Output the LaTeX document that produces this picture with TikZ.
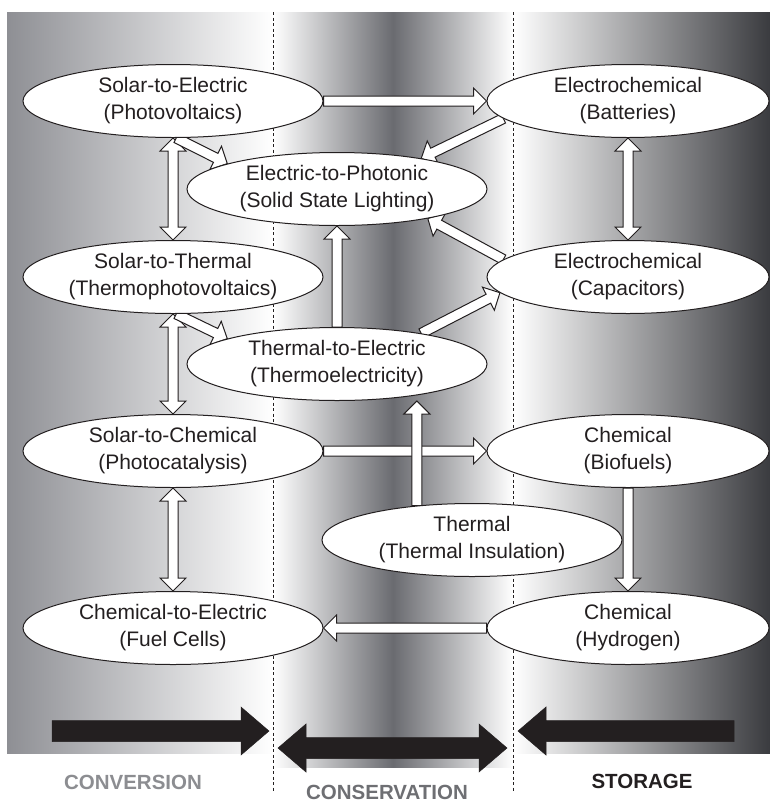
\documentclass[tikz,border=0pt]{standalone}
\usepackage{fontspec}
\setmainfont{Liberation Sans}
\usetikzlibrary{calc,shapes.geometric}
\definecolor{ink}{HTML}{231F20}
\definecolor{convc}{HTML}{8E8F94}
\definecolor{consc}{HTML}{6A6B70}
\definecolor{storc}{HTML}{3A3B3F}
\definecolor{convtxt}{HTML}{8C8D91}
\definecolor{constxt}{HTML}{6E6F73}
\pgfdeclarelayer{bg}
\pgfdeclarelayer{mid}
\pgfsetlayers{bg,mid,main}
\tikzset{
  eblk/.style={draw=ink, ellipse, fill=white, line width=1pt, minimum width=300pt, minimum height=73pt,
    inner sep=0pt, align=center, text=ink, font=\fontsize{21}{27}\selectfont},
  fatarr/.style={draw=ink, fill=white, line width=1pt, line join=miter},
  bigarr/.style={draw=ink, fill=ink, line width=0.5pt},
  sepline/.style={draw=ink, line width=1pt, dash pattern=on 3pt off 2.5pt},
  zonelbl/.style={font=\bfseries\fontsize{20.5}{24}\selectfont, inner sep=1pt},
}
% sizes of the hollow arrows
\newcommand{\arrshaft}{5pt}
\newcommand{\arrhead}{13pt}
\newcommand{\arrlen}{13pt}
% single arrow from #2 to #3
\newcommand{\fatarrow}[3][fatarr]{%
  \coordinate (hb) at ($(#3)!\arrlen!(#2)$);
  \filldraw[#1] ($(#2)!\arrshaft!90:(#3)$) -- ($(hb)!\arrshaft!90:(#3)$) -- ($(hb)!\arrhead!90:(#3)$)
    -- (#3) -- ($(hb)!\arrhead!-90:(#3)$) -- ($(hb)!\arrshaft!-90:(#3)$) -- ($(#2)!\arrshaft!-90:(#3)$) -- cycle;}
% double arrow between #2 and #3
\newcommand{\fatdarrow}[3][fatarr]{%
  \coordinate (ha) at ($(#2)!\arrlen!(#3)$);
  \coordinate (hb) at ($(#3)!\arrlen!(#2)$);
  \filldraw[#1] (#2) -- ($(ha)!\arrhead!90:(#3)$) -- ($(ha)!\arrshaft!90:(#3)$) -- ($(hb)!\arrshaft!90:(#3)$)
    -- ($(hb)!\arrhead!90:(#3)$) -- (#3) -- ($(hb)!\arrhead!-90:(#3)$) -- ($(hb)!\arrshaft!-90:(#3)$)
    -- ($(ha)!\arrshaft!-90:(#3)$) -- ($(ha)!\arrhead!-90:(#3)$) -- cycle;}

\begin{document}
\begin{tikzpicture}[x=1pt, y=-1pt]
  \useasboundingbox (0,0) rectangle (770,804);
  \begin{pgfonlayer}{bg}
    \shade[left color=convc, right color=white] (7,12) rectangle (273,753);
    \shade[left color=white, right color=white, middle color=consc] (273,12) rectangle (513,767);
    \shade[left color=white, right color=storc] (513,12) rectangle (770,753);
    \draw[sepline] (273,12) -- (273,792);
    \draw[sepline] (513,12) -- (513,792);
  \end{pgfonlayer}

  % conversion
  \node[eblk] (e1) at (173,101) {Solar-to-Electric\\(Photovoltaics)};
  \node[eblk] (st) at (173,277) {Solar-to-Thermal\\(Thermophotovoltaics)};
  \node[eblk] (sc) at (173,451) {Solar-to-Chemical\\(Photocatalysis)};
  \node[eblk] (ce) at (173,628) {Chemical-to-Electric\\(Fuel Cells)};
  % conservation
  \node[eblk] (ep) at (337,189) {Electric-to-Photonic\\(Solid State Lighting)};
  \node[eblk] (te) at (337,364) {Thermal-to-Electric\\(Thermoelectricity)};
  \node[eblk] (th) at (472,540) {Thermal\\(Thermal Insulation)};
  % storage
  \node[eblk, minimum width=282pt] (b) at (628,101) {Electrochemical\\(Batteries)};
  \node[eblk, minimum width=282pt] (c) at (628,277) {Electrochemical\\(Capacitors)};
  \node[eblk, minimum width=282pt] (bf) at (628,451) {Chemical\\(Biofuels)};
  \node[eblk, minimum width=282pt] (h) at (628,628) {Chemical\\(Hydrogen)};

  \coordinate (thtop) at (th.148);
  \coordinate (tebot) at (th.148 |- te.south);

  \begin{pgfonlayer}{mid}
    \fatdarrow{e1.south}{st.north}
    \fatdarrow{st.south}{sc.north}
    \fatdarrow{sc.south}{ce.north}
    \fatdarrow{b.south}{c.north}
    \fatarrow{e1.east}{b.west}
    \fatarrow{b.188}{ep.20}
    \fatarrow{c.172}{ep.-18}
    \fatarrow{te.20}{c.187}
    \fatarrow{te.north}{ep.south}
    \fatarrow{e1.-85}{ep.167}
    \fatarrow{st.-85}{te.167}
    \fatarrow{sc.east}{bf.west}
    \fatarrow{thtop}{tebot}
    \fatarrow{bf.south}{h.north}
    \fatarrow{h.west}{ce.east}
  \end{pgfonlayer}

  % zone arrows
  \coordinate (cvtail) at (52,731);
  \coordinate (cvtip) at (269,731);
  \coordinate (csl) at (278,748);
  \coordinate (csr) at (507,748);
  \coordinate (sgtail) at (734,731);
  \coordinate (sgtip) at (518,731);
  \begin{scope}
    \renewcommand{\arrshaft}{10.5pt}
    \renewcommand{\arrhead}{24pt}
    \renewcommand{\arrlen}{28pt}
    \fatarrow[bigarr]{cvtail}{cvtip}
    \fatdarrow[bigarr]{csl}{csr}
    \fatarrow[bigarr]{sgtail}{sgtip}
  \end{scope}

  \node[zonelbl, text=convtxt] (lconv) at (133,782) {CONVERSION};
  \node[zonelbl, text=constxt] (lcons) at (387,792) {CONSERVATION};
  \node[zonelbl, text=ink] (lstor) at (642,781) {STORAGE};
\end{tikzpicture}
\end{document}
